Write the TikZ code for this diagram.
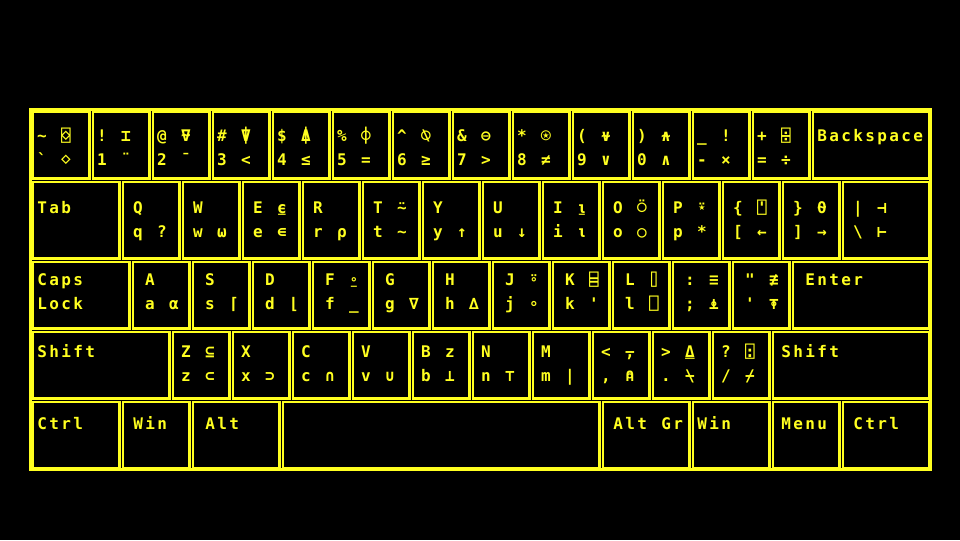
\documentclass[tikz,border=0pt]{standalone}
\usepackage{fontspec}
\newfontfamily\apl{DejaVu Sans Mono Bold}
\definecolor{ky}{RGB}{255,255,32}
\newcommand\spc[1]{\spcI#1\relax}
\def\spcI#1{\ifx\relax#1\else\makebox[9pt]{#1}\expandafter\spcI\fi}
\tikzset{
  kb/.style={draw=ky, line width=1.875pt, inner sep=0pt, anchor=north west},
  gl/.style={text=ky, font=\apl\fontsize{12}{12}\selectfont, anchor=base, inner sep=0pt},
  lb/.style={text=ky, font=\apl\fontsize{12}{12}\selectfont, anchor=base west, inner sep=0pt},
  frame/.style={draw=ky, line width=2.25pt}
}
\def\kw{60}
\newcommand\keybox[3]{\node[kb, minimum width={(#3-3.5)*0.75pt}, minimum height={(\rh-3.5)*0.75pt}] (#1) at (#2+1.75,\rt+1.75) {};}
\newcommand\gk[6]{\keybox{#1}{#2}{\kw}%
  \if\relax\detokenize{#3}\relax\else\node[gl] (#1a) at (#2+\ro+6,\bt) {#3};\fi
  \if\relax\detokenize{#4}\relax\else\node[gl] (#1b) at (#2+\ro+30,\bt) {#4};\fi
  \if\relax\detokenize{#5}\relax\else\node[gl] (#1c) at (#2+\ro+6,\bb) {#5};\fi
  \if\relax\detokenize{#6}\relax\else\node[gl] (#1d) at (#2+\ro+30,\bb) {#6};\fi}
\newcommand\lk[5]{\keybox{#1}{#2}{#3}%
  \node[lb] (#1t) at (#4,\bt) {\spc{#5}};}
\begin{document}
\begin{tikzpicture}[x=0.75pt,y=-0.75pt]
\fill[black] (0,0) rectangle (960,540);
\useasboundingbox (0,0) rectangle (960,540);
\draw[frame] (30,109) rectangle (930,469);
% row 1
\def\rt{109}\def\rh{70}\def\ro{6}\def\bt{141}\def\bb{165}
\gk{ka}{30}{\textasciitilde}{⌺}{`}{⋄}
\gk{kb}{90}{!}{⌶}{1}{¨}
\gk{kc}{150}{@}{⍫}{2}{¯}
\gk{kd}{210}{\#}{⍒}{3}{<}
\gk{ke}{270}{\$}{⍋}{4}{≤}
\gk{kf}{330}{\%}{⌽}{5}{=}
\gk{kg}{390}{\textasciicircum}{⍉}{6}{≥}
\gk{kh}{450}{\&}{⊖}{7}{>}
\gk{ki}{510}{*}{⍟}{8}{≠}
\gk{kj}{570}{(}{⍱}{9}{∨}
\gk{kk}{630}{)}{⍲}{0}{∧}
\gk{kl}{690}{\_}{!}{-}{×}
\gk{km}{750}{+}{⌹}{=}{÷}
\lk{kn}{810}{120}{816}{Backspace}
% row 2
\def\rt{179}\def\rh{80}\def\ro{12}\def\bt{213}\def\bb{237}
\lk{la}{30}{90}{36}{Tab}
\gk{lb}{120}{Q}{}{q}{?}
\gk{lc}{180}{W}{}{w}{⍵}
\gk{ld}{240}{E}{⍷}{e}{∊}
\gk{le}{300}{R}{}{r}{⍴}
\gk{lf}{360}{T}{⍨}{t}{\textasciitilde}
\gk{lg}{420}{Y}{}{y}{↑}
\gk{lh}{480}{U}{}{u}{↓}
\gk{li}{540}{I}{⍸}{i}{⍳}
\gk{lj}{600}{O}{⍥}{o}{○}
\gk{lk}{660}{P}{⍣}{p}{*}
\gk{ll}{720}{\{}{⍞}{[}{←}
\gk{lm}{780}{\}}{⍬}{]}{→}
\def\kw{90}
\gk{ln}{840}{|}{⊣}{\textbackslash}{⊢}
\def\kw{60}
% row 3
\def\rt{259}\def\rh{70}\def\ro{14}\def\bt{285}\def\bb{309}
\lk{ma}{30}{100}{36}{Caps}
\node[lb] (malock) at (36,\bb) {\spc{Lock}};
\gk{mb}{130}{A}{}{a}{⍺}
\gk{mc}{190}{S}{}{s}{⌈}
\gk{md}{250}{D}{}{d}{⌊}
\gk{me}{310}{F}{⍛}{f}{\_}
\gk{mf}{370}{G}{}{g}{∇}
\gk{mg}{430}{H}{}{h}{∆}
\gk{mh}{490}{J}{⍤}{j}{∘}
\gk{mi}{550}{K}{⌸}{k}{'}
\gk{mj}{610}{L}{⌷}{l}{⎕}
\gk{mk}{670}{:}{≡}{;}{⍎}
\gk{ml}{730}{"}{≢}{'}{⍕}
\lk{mm}{790}{140}{804}{Enter}
% row 4
\def\rt{329}\def\rh{70}\def\ro{10}\def\bt{357}\def\bb{381}
\lk{na}{30}{140}{36}{Shift}
\gk{nb}{170}{Z}{⊆}{z}{⊂}
\gk{nc}{230}{X}{}{x}{⊃}
\gk{nd}{290}{C}{}{c}{∩}
\gk{ne}{350}{V}{}{v}{∪}
\gk{nf}{410}{B}{z}{b}{⊥}
\gk{ng}{470}{N}{}{n}{⊤}
\gk{nh}{530}{M}{}{m}{|}
\gk{ni}{590}{<}{⍪}{,}{⍝}
\gk{nj}{650}{>}{⍙}{.}{⍀}
\gk{nk}{710}{?}{⍠}{/}{⌿}
\lk{nl}{770}{160}{780}{Shift}
% row 5
\def\rt{399}\def\rh{70}\def\bt{429}
\lk{oa}{30}{90}{36}{Ctrl}
\lk{ob}{120}{70}{132}{Win}
\lk{oc}{190}{90}{204}{Alt}
\keybox{od}{280}{320}
\lk{oe}{600}{90}{612}{Alt~Gr}
\lk{of}{690}{80}{696}{Win}
\lk{og}{770}{70}{780}{Menu}
\lk{oh}{840}{90}{852}{Ctrl}
\end{tikzpicture}
\end{document}
